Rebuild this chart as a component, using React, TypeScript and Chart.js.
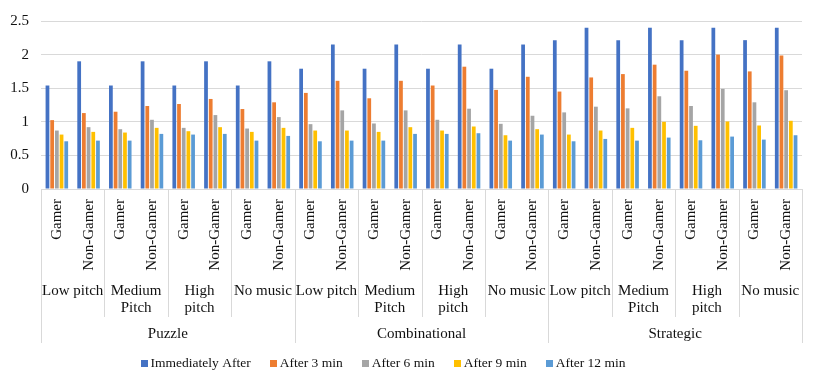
import React, { useEffect, useRef } from "react";
import { Chart, registerables } from "chart.js";

Chart.register(...registerables);

const games = ["Puzzle", "Combinational", "Strategic"];
const musicLabels: string[][] = [["Low pitch"], ["Medium", "Pitch"], ["High", "pitch"], ["No music"]];
const players = ["Gamer", "Non-Gamer"];

const seriesNames = ["Immediately After", "After 3 min", "After 6 min", "After 9 min", "After 12 min"];
const seriesColors = ["#4472C4", "#ED7D31", "#A5A5A5", "#FFC000", "#5B9BD5"];

const immediately = [1.54, 1.9, 1.54, 1.9, 1.54, 1.9, 1.54, 1.9, 1.79, 2.15, 1.79, 2.15, 1.79, 2.15, 1.79, 2.15, 2.215, 2.4, 2.215, 2.4, 2.215, 2.4, 2.215, 2.4];
const after3 = [1.025, 1.13, 1.15, 1.235, 1.265, 1.34, 1.19, 1.29, 1.43, 1.61, 1.35, 1.61, 1.54, 1.82, 1.475, 1.67, 1.45, 1.66, 1.71, 1.85, 1.76, 2.0, 1.75, 1.985];
const after6 = [0.87, 0.92, 0.89, 1.03, 0.91, 1.1, 0.9, 1.07, 0.965, 1.17, 0.975, 1.17, 1.03, 1.195, 0.97, 1.09, 1.14, 1.225, 1.2, 1.38, 1.235, 1.49, 1.29, 1.47];
const after9 = [0.81, 0.85, 0.84, 0.91, 0.86, 0.92, 0.85, 0.91, 0.87, 0.87, 0.85, 0.92, 0.87, 0.93, 0.8, 0.89, 0.81, 0.87, 0.91, 1.0, 0.94, 1.005, 0.945, 1.015];
const after12 = [0.71, 0.72, 0.72, 0.82, 0.81, 0.82, 0.72, 0.79, 0.71, 0.72, 0.72, 0.82, 0.82, 0.83, 0.72, 0.81, 0.71, 0.745, 0.72, 0.765, 0.725, 0.78, 0.735, 0.8];

const yTicks = [0, 0.5, 1, 1.5, 2, 2.5];

const FONT = '"Liberation Serif", "Times New Roman", serif';
const TEXT = "#111111";
const GRID = "#d9d9d9";

export default function App() {
  const ref = useRef<HTMLCanvasElement | null>(null);

  useEffect(() => {
    if (!ref.current) return;
    const labels: string[] = [];
    games.forEach(() => musicLabels.forEach(() => players.forEach((p) => labels.push(p))));
    const values = [immediately, after3, after6, after9, after12];

    const groupPlugin = {
      id: "groupLabels",
      afterDraw(chart: any) {
        const { ctx, chartArea } = chart;
        const xs = chart.scales.x;
        const n = labels.length;
        const px = (i: number) => xs.getPixelForValue(i);
        const boundary = (i: number) => {
          if (i <= 0) return xs.left;
          if (i >= n) return xs.right;
          return (px(i - 1) + px(i)) / 2;
        };
        const b = chartArea.bottom;
        ctx.save();
        ctx.strokeStyle = GRID;
        ctx.lineWidth = 1;
        for (let k = 0; k <= n; k += 2) {
          const x = Math.round(boundary(k)) + 0.5;
          const end = k % 8 === 0 ? b + 154 : b + 128;
          ctx.beginPath();
          ctx.moveTo(x, b);
          ctx.lineTo(x, end);
          ctx.stroke();
        }
        ctx.fillStyle = TEXT;
        ctx.font = `15px ${FONT}`;
        ctx.textAlign = "center";
        ctx.textBaseline = "middle";
        for (let g = 0; g < games.length; g++) {
          for (let m = 0; m < musicLabels.length; m++) {
            const start = g * 8 + m * 2;
            const cx = (boundary(start) + boundary(start + 2)) / 2;
            musicLabels[m].forEach((line, li) => {
              ctx.fillText(line, cx, b + 102 + li * 17);
            });
          }
          const cx = (boundary(g * 8) + boundary(g * 8 + 8)) / 2;
          ctx.fillText(games[g], cx, b + 145);
        }

        // legend
        ctx.font = `13.5px ${FONT}`;
        ctx.textAlign = "left";
        const boxSize = 7;
        const gapBoxText = 3;
        const gapItems = 19;
        const widths = seriesNames.map((s) => ctx.measureText(s).width);
        const total = widths.reduce((a, w) => a + boxSize + gapBoxText + w, 0) + gapItems * (seriesNames.length - 1);
        let x = 383 - total / 2;
        const ly = b + 174;
        seriesNames.forEach((s, i) => {
          ctx.fillStyle = seriesColors[i];
          ctx.fillRect(Math.round(x), Math.round(ly - 3.5), boxSize, boxSize);
          ctx.fillStyle = TEXT;
          ctx.fillText(s, x + boxSize + gapBoxText, ly);
          x += boxSize + gapBoxText + widths[i] + gapItems;
        });
        ctx.restore();
      },
    };

    const bgPlugin = {
      id: "bg",
      beforeDraw(chart: any) {
        const { ctx, width, height } = chart;
        ctx.save();
        ctx.fillStyle = "#ffffff";
        ctx.fillRect(0, 0, width, height);
        ctx.restore();
      },
    };

    const chart = new Chart(ref.current, {
      type: "bar",
      data: {
        labels,
        datasets: seriesNames.map((name, i) => ({
          label: name,
          data: values[i],
          backgroundColor: seriesColors[i],
          borderWidth: 0,
          categoryPercentage: 0.74,
          barPercentage: 0.8,
        })),
      },
      options: {
        animation: false,
        responsive: false,
        layout: { padding: { top: 19, right: 29, bottom: 43, left: 0 } },
        plugins: {
          tooltip: { enabled: false },
          legend: { display: false },
        },
        scales: {
          x: {
            type: "category",
            offset: true,
            grid: { display: false, drawTicks: false },
            border: { display: true, color: GRID },
            ticks: {
              autoSkip: false,
              minRotation: 90,
              maxRotation: 90,
              padding: 10,
              color: TEXT,
              font: { family: FONT, size: 15 },
            },
            afterFit(scale: any) {
              scale.height = 152;
            },
          },
          y: {
            min: 0,
            max: 2.5,
            afterBuildTicks(scale: any) {
              scale.ticks = yTicks.map((v) => ({ value: v }));
            },
            grid: { color: GRID, drawTicks: false },
            border: { display: false },
            ticks: {
              padding: 12,
              color: TEXT,
              font: { family: FONT, size: 15 },
              callback: (v: any) => String(v),
            },
            afterFit(scale: any) {
              scale.width = 41;
            },
          },
        },
      },
      plugins: [bgPlugin, groupPlugin],
    });
    return () => chart.destroy();
  }, []);

  return (
    <div style={{ position: "fixed", left: 0, top: 0, width: 831, height: 384, background: "#fff" }}>
      <canvas ref={ref} width={831} height={384} style={{ display: "block" }} />
    </div>
  );
}
